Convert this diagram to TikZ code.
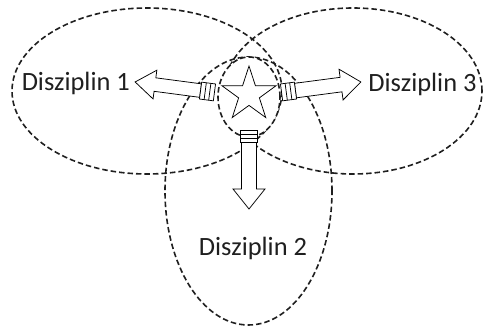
\documentclass[tikz,border=0pt]{standalone}
\usepackage{fontspec}
\setmainfont{Carlito}
\usetikzlibrary{shapes.geometric}
\begin{document}
\begin{tikzpicture}[x=1pt,y=-1pt,
  dashedline/.style={draw=black!88, line width=1.6pt, dash pattern=on 5.5pt off 3pt},
  area/.style={ellipse, dashedline, inner sep=0pt},
  blockarrow/.style={draw=black, line width=0.75pt, fill=white, line join=miter},
  label/.style={font=\fontsize{26.4}{26.4}\selectfont, inner sep=0pt, text=black!88}]
\useasboundingbox (0,0) rectangle (483,328);
% three areas
\node[area, minimum width=270pt, minimum height=166pt] (d1) at (147,91) {};
\node[area, minimum width=258pt, minimum height=166pt] (d3) at (353,91) {};
\node[area, minimum width=167pt, minimum height=268pt] (d2) at (248.5,191) {};
% centre circle
\node[area, fill=white, minimum width=62pt, minimum height=80pt] (c) at (249,97) {};
% left arrow
\begin{scope}[shift={(207.5,91.5)}, rotate=-7.5]
  \draw[blockarrow] (-7,-6.8) -- (-53,-6.8) -- (-53,-14.5) -- (-73,0) -- (-53,14.5) -- (-53,6.8) -- (-7,6.8) -- cycle;
  \draw[blockarrow] (-7,-8.5) rectangle (7,8.5);
  \draw[line width=0.75pt] (-2.3,-8.5) -- (-2.3,8.5) (2.3,-8.5) -- (2.3,8.5);
\end{scope}
% right arrow
\begin{scope}[shift={(288.5,91.5)}, rotate=7.5]
  \draw[blockarrow] (7,-7.3) -- (53,-7.3) -- (53,-15.5) -- (73,0) -- (53,15.5) -- (53,7.3) -- (7,7.3) -- cycle;
  \draw[blockarrow] (-7,-8.5) rectangle (7,8.5);
  \draw[line width=0.75pt] (-2.3,-8.5) -- (-2.3,8.5) (2.3,-8.5) -- (2.3,8.5);
\end{scope}
% down arrow
\begin{scope}[shift={(249,136)}]
  \draw[blockarrow] (-7.5,6) -- (-7.5,53) -- (-16,53) -- (0,73) -- (16,53) -- (7.5,53) -- (7.5,6) -- cycle;
  \draw[blockarrow] (-8.5,-6) rectangle (8.5,6);
  \draw[line width=0.75pt] (-8.5,-2) -- (8.5,-2) (-8.5,2) -- (8.5,2);
\end{scope}
% star
\begin{scope}[shift={(249,94.5)}]
  \draw[blockarrow] (-90:28.5)
    \foreach \k in {0,...,4} { -- ({-54+72*\k}:10.9) -- ({-18+72*\k}:28.5) } -- cycle;
\end{scope}
% labels
\node[label, anchor=base] (t1) at (75.8,90.7) {Disziplin 1};
\node[label, anchor=base] (t3) at (422.5,91.7) {Disziplin 3};
\node[label, anchor=base] (t2) at (253,256) {Disziplin 2};
\end{tikzpicture}
\end{document}
